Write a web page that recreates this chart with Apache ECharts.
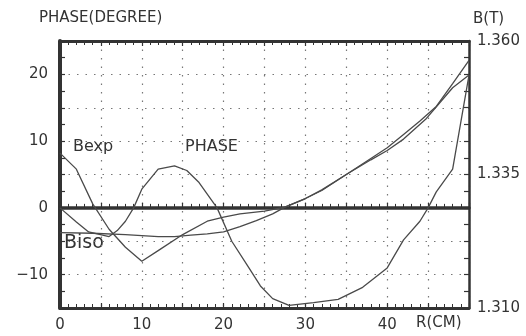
<!DOCTYPE html>
<html>
<head>
<meta charset="utf-8">
<script src="https://cdn.jsdelivr.net/npm/echarts@6/dist/echarts.min.js"></script>
<style>
  html, body { margin: 0; padding: 0; background: #fff; }
  #chart { width: 526px; height: 336px; }
</style>
</head>
<body>
<div id="chart"></div>
<script>
// PHASE curve, left axis (degree)
const phaseR = [0, 2, 3.5, 6, 7, 8, 9, 10, 12, 14, 15.5, 17, 19.2, 21, 23, 24.5, 26, 28, 31, 34, 37, 40, 42, 44, 45, 46, 48, 50]
const phaseDeg = [0, -2.1, -3.6, -4.3, -3.4, -2.0, 0, 2.8, 5.8, 6.3, 5.6, 3.8, 0, -5.0, -8.8, -11.7, -13.6, -14.6, -14.2, -13.7, -11.9, -9.0, -4.8, -2.0, 0, 2.4, 5.8, 19.9]

// Bexp, right axis (T)
const bexpR = [0, 2, 4, 6, 8, 10, 12, 15, 18, 20, 22, 25, 27.5, 30, 32, 35, 38, 40, 42, 44, 46, 48, 50]
const bexpB = [1.339, 1.336, 1.3295, 1.32475, 1.32138, 1.31875, 1.32075, 1.32375, 1.32625, 1.327, 1.32763, 1.32813, 1.32888,
  1.3305, 1.332, 1.335, 1.338, 1.34, 1.3425, 1.345, 1.34775, 1.352, 1.35638]

// Biso, right axis (T)
const bisoR = [0, 4, 8, 12, 14, 16, 18, 20, 22, 24, 26, 27.5, 30, 32, 35, 38, 40, 42, 44.8, 48, 50]
const bisoB = [1.32413, 1.324, 1.32375, 1.32338, 1.32338, 1.32363, 1.32388, 1.32425, 1.32525, 1.32638, 1.32763, 1.32888,
  1.3305, 1.33213, 1.335, 1.33775, 1.3395, 1.34163, 1.3455, 1.35125, 1.35363]

const xLabels = [0, 10, 20, 30, 40]
const leftLabels = [-10, 0, 10, 20]

const ink = '#333'
const font = 'DejaVu Sans'
const pairs = (xs, ys) => xs.map((x, i) => [x, ys[i]])

const chart = echarts.init(document.getElementById('chart'))

const lineSeries = (name, data, yIdx) => ({
  name,
  type: 'line',
  xAxisIndex: 0,
  yAxisIndex: yIdx,
  data,
  symbol: 'none',
  smooth: false,
  lineStyle: { color: '#4a4a4a', width: 1.3 },
  animation: false
})

const frameX = (pos, extra) => Object.assign({
  type: 'value',
  min: 0,
  max: 50,
  interval: 5,
  position: pos,
  axisLine: { onZero: false, lineStyle: { color: ink, width: 3 } },
  axisTick: { show: true, inside: true, length: 5, lineStyle: { color: ink, width: 1.2 } },
  minorTick: { show: true, splitNumber: 5, length: 4, lineStyle: { color: ink, width: 1 } },
  axisLabel: { show: false },
  splitLine: { show: false }
}, extra)

const option = {
  backgroundColor: '#fff',
  animation: false,
  grid: { left: 60, right: 57, top: 41, bottom: 28, containLabel: false },
  xAxis: [
    frameX('bottom', {
      axisLabel: {
        show: true,
        margin: 10,
        color: ink,
        fontFamily: font,
        fontSize: 15,
        formatter: v => (xLabels.includes(v) ? String(v) : '')
      },
      splitLine: { show: true, lineStyle: { color: '#777', width: 1.2, type: [1.5, 7] } }
    }),
    frameX('top', {}),
    // heavy line on zero phase
    frameX('bottom', {
      axisLine: { onZero: true, onZeroAxisIndex: 0, lineStyle: { color: ink, width: 3.5 } },
      axisTick: { show: true, inside: true, length: 5, lineStyle: { color: ink, width: 1.2 } },
      minorTick: { show: true, splitNumber: 5, length: 4, lineStyle: { color: ink, width: 1 } }
    })
  ],
  yAxis: [
    {
      type: 'value',
      min: -15,
      max: 25,
      interval: 5,
      position: 'left',
      axisLine: { onZero: false, lineStyle: { color: ink, width: 4 } },
      axisTick: { show: true, inside: true, length: 5, lineStyle: { color: ink, width: 1.2 } },
      minorTick: { show: true, splitNumber: 2, length: 5, lineStyle: { color: ink, width: 1.2 } },
      axisLabel: {
        margin: 12,
        color: ink,
        fontFamily: font,
        fontSize: 15,
        formatter: v => (leftLabels.includes(v) ? String(v).replace('-', '\u2212') : '')
      },
      splitLine: { show: true, lineStyle: { color: '#777', width: 1.2, type: [1.5, 7] } }
    },
    {
      type: 'value',
      min: 1.31,
      max: 1.36,
      interval: 0.025,
      position: 'right',
      axisLine: { onZero: false, lineStyle: { color: ink, width: 2.5 } },
      axisTick: { show: true, inside: true, length: 5, lineStyle: { color: ink, width: 1.2 } },
      minorTick: { show: true, splitNumber: 8, length: 5, lineStyle: { color: ink, width: 1.2 } },
      axisLabel: {
        margin: 8,
        color: ink,
        fontFamily: font,
        fontSize: 15,
        padding: [0, 0, 6, 0],
        formatter: v => v.toFixed(3)
      },
      splitLine: { show: false }
    }
  ],
  graphic: [
    { type: 'text', left: 39, top: 11, style: { text: 'PHASE(DEGREE)', fill: ink, font: '15px "DejaVu Sans"' } },
    { type: 'text', left: 473, top: 12, style: { text: 'B(T)', fill: ink, font: '15px "DejaVu Sans"' } },
    { type: 'text', left: 416, top: 316, style: { text: 'R(CM)', fill: ink, font: '15px "DejaVu Sans"' } },
    { type: 'text', left: 73, top: 139, style: { text: 'Bexp', fill: ink, font: '16px "DejaVu Sans"' } },
    { type: 'text', left: 185, top: 139, style: { text: 'PHASE', fill: ink, font: '16px "DejaVu Sans"' } },
    { type: 'text', left: 64, top: 234, style: { text: 'Biso', fill: ink, font: '19px "DejaVu Sans"' } }
  ],
  series: [
    lineSeries('PHASE', pairs(phaseR, phaseDeg), 0),
    lineSeries('Bexp', pairs(bexpR, bexpB), 1),
    lineSeries('Biso', pairs(bisoR, bisoB), 1)
  ]
}

chart.setOption(option)
</script>
</body>
</html>
